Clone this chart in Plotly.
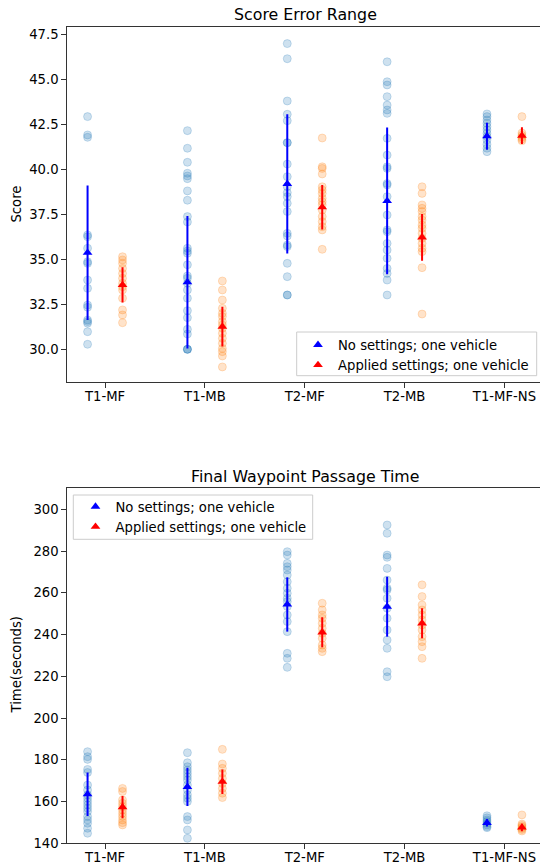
import plotly.graph_objects as go

categories = ["T1-MF", "T1-MB", "T2-MF", "T2-MB", "T1-MF-NS"]

# ---- Score Error Range (top) ----
score_no = [
    [42.94, 41.92, 41.79, 36.36, 36.26, 35.62, 34.87, 34.78, 33.85, 33.39, 32.46, 32.34, 31.63, 31.54, 31.45, 30.98, 30.28],
    [42.16, 41.18, 40.40, 39.79, 39.64, 39.49, 38.81, 38.29, 37.38, 37.08, 35.62, 35.47, 35.34, 34.70, 34.08, 33.95, 33.67, 33.30, 32.84, 32.15, 31.76, 31.11, 30.85, 30.00, 30.00, 30.00],
    [47.00, 46.16, 43.81, 43.07, 42.71, 41.49, 41.49, 40.30, 39.60, 39.04, 38.71, 38.49, 38.12, 37.66, 36.45, 36.30, 35.80, 35.71, 34.78, 34.04, 33.02, 33.02],
    [45.99, 44.88, 44.70, 44.05, 43.58, 43.31, 43.12, 41.73, 40.80, 40.15, 40.06, 39.22, 39.14, 38.49, 37.47, 36.64, 36.54, 35.89, 35.52, 35.06, 34.50, 34.22, 33.85, 33.02],
    [43.09, 42.94, 42.75, 42.57, 42.38, 42.20, 42.01, 41.83, 41.64, 41.40, 41.18, 40.99],
]
score_applied = [
    [35.15, 34.97, 34.78, 34.50, 34.22, 33.95, 33.67, 33.48, 33.30, 32.84, 32.19, 31.91, 31.48],
    [33.80, 33.30, 32.74, 32.28, 32.00, 31.82, 31.54, 31.35, 31.17, 30.89, 30.61, 30.33, 30.05, 29.87, 29.63, 29.02],
    [41.75, 40.15, 40.06, 39.75, 39.04, 38.86, 38.67, 38.40, 38.21, 38.03, 37.75, 37.38, 37.10, 36.82, 36.64, 35.56],
    [39.04, 38.67, 38.03, 37.84, 37.66, 37.38, 37.19, 36.91, 36.73, 36.45, 36.17, 35.89, 35.62, 35.43, 34.54, 31.96],
    [42.94, 42.03, 41.90, 41.80, 41.70, 41.60],
]
score_no_mean = [35.37, 33.73, 39.20, 38.25, 41.85]
score_no_err = [3.74, 3.68, 3.87, 4.08, 0.75]
score_applied_mean = [33.58, 31.26, 37.90, 36.23, 41.88]
score_applied_err = [0.98, 1.11, 1.24, 1.30, 0.47]

# ---- Final Waypoint Passage Time (bottom) ----
time_no = [
    [183.9, 181.5, 180.2, 175.4, 173.9, 167.9, 165.5, 163.2, 161.6, 160.0, 158.4, 156.8, 155.2, 152.8, 151.2, 149.6, 147.2, 144.8],
    [183.4, 178.6, 176.7, 175.1, 173.5, 171.9, 170.3, 167.9, 165.5, 163.2, 161.6, 160.0, 152.8, 151.2, 146.4, 142.4],
    [279.7, 278.1, 274.1, 272.5, 270.9, 268.5, 265.3, 262.2, 259.8, 257.4, 255.8, 253.4, 249.4, 246.2, 241.4, 231.0, 228.6, 224.3],
    [292.5, 288.5, 278.1, 277.0, 271.7, 266.1, 262.2, 261.4, 257.4, 252.6, 247.8, 242.2, 237.4, 233.4, 222.2, 219.8],
    [153.2, 152.2, 151.2, 150.4, 149.6, 148.8, 148.0, 147.5],
]
time_applied = [
    [166.3, 164.8, 160.8, 159.2, 157.6, 156.0, 154.4, 152.8, 151.2, 149.9, 148.8],
    [185.0, 178.0, 175.9, 173.5, 171.1, 168.7, 166.3, 164.0, 161.9],
    [255.0, 251.8, 249.4, 247.8, 245.4, 243.0, 240.6, 238.2, 235.0, 233.4, 231.8],
    [263.8, 258.2, 254.2, 251.8, 249.4, 247.0, 244.6, 242.2, 239.0, 236.6, 234.2, 228.6],
    [153.6, 149.2, 148.5, 147.8, 147.2, 146.6, 145.9],
]
time_no_mean = [163.5, 167.05, 254.4, 253.35, 149.8]
time_no_err = [10.4, 9.15, 13.0, 14.35, 1.8]
time_applied_mean = [157.35, 169.5, 241.1, 245.4, 147.6]
time_applied_err = [5.35, 5.9, 7.2, 7.2, 1.8]

series_labels = ["No settings; one vehicle", "Applied settings; one vehicle"]

# ---- layout helpers (pixel -> paper) ----
W, H = 540, 865
OFF = 0.175
FONT = "DejaVu Sans"
AX = "#333333"
FS = 13.2


def py(p):
    return 1 - p / H


def px(p):
    return p / W


fig = go.Figure()


def add_panel(no_pts, ap_pts, no_mean, no_err, ap_mean, ap_err, xa, ya, legend):
    for pts_list, off, col in ((no_pts, -OFF, "rgba(31,119,180,0.22)"),
                               (ap_pts, OFF, "rgba(255,127,14,0.22)")):
        xs, ys = [], []
        for i, pts in enumerate(pts_list):
            xs += [i + off] * len(pts)
            ys += pts
        fig.add_trace(go.Scatter(
            x=xs, y=ys, mode="markers", xaxis=xa, yaxis=ya, showlegend=False,
            marker=dict(color=col, size=8, line=dict(width=1, color=col)),
            hoverinfo="skip"))
    for mean, err, off, col, name in ((no_mean, no_err, -OFF, "#0000ff", series_labels[0]),
                                      (ap_mean, ap_err, OFF, "#ff0000", series_labels[1])):
        fig.add_trace(go.Scatter(
            x=[i + off for i in range(len(categories))], y=mean, mode="markers",
            xaxis=xa, yaxis=ya, name=name, legend=legend,
            marker=dict(symbol="triangle-up", size=8.5, color=col, line=dict(width=0)),
            error_y=dict(type="data", array=err, visible=True, thickness=2, width=0, color=col)))


add_panel(score_no, score_applied, score_no_mean, score_no_err,
          score_applied_mean, score_applied_err, "x", "y", "legend")
add_panel(time_no, time_applied, time_no_mean, time_no_err,
          time_applied_mean, time_applied_err, "x2", "y2", "legend2")

xcommon = dict(
    range=[-0.384, 4.356], tickmode="array", tickvals=list(range(len(categories))),
    ticktext=categories, ticks="outside", ticklen=4.5, tickwidth=1, tickcolor=AX,
    showline=True, linecolor=AX, linewidth=1, mirror=True, showgrid=False, zeroline=False,
    automargin=False, ticklabelstandoff=-3,
    tickfont=dict(family=FONT, size=FS, color="#000"),
)
ycommon = dict(
    ticks="outside", ticklen=4.5, tickwidth=1, tickcolor=AX, showline=True, linecolor=AX,
    linewidth=1, mirror=False, showgrid=False, zeroline=False, automargin=False,
    tickfont=dict(family=FONT, size=FS, color="#000"),
)

legend_box = dict(type="rect", xref="paper", yref="paper", layer="above",
                  fillcolor="rgba(255,255,255,0.8)", line=dict(color="#cccccc", width=1))

fig.update_layout(
    width=W, height=H, margin=dict(l=0, r=0, t=0, b=0, autoexpand=False),
    paper_bgcolor="white", plot_bgcolor="white",
    font=dict(family=FONT, size=FS, color="#000"),
    xaxis=dict(domain=[px(66.7), 1.0], anchor="y", **xcommon),
    yaxis=dict(domain=[py(382.3), py(26.7)], anchor="x", range=[28.165, 47.94],
               tickmode="array", tickvals=[30, 32.5, 35, 37.5, 40, 42.5, 45, 47.5],
               tickformat=".1f", **ycommon),
    xaxis2=dict(domain=[px(66.7), 1.0], anchor="y2", **xcommon),
    yaxis2=dict(domain=[py(843.3), py(487.7)], anchor="x2", range=[140, 310.35],
                tickmode="array", tickvals=[140, 160, 180, 200, 220, 240, 260, 280, 300],
                **ycommon),
    legend=dict(x=px(298), xanchor="left", y=py(329.7), yanchor="top",
                bgcolor="rgba(0,0,0,0)", borderwidth=0,
                font=dict(family=FONT, size=FS), tracegroupgap=0),
    legend2=dict(x=px(75.5), xanchor="left", y=py(491.5), yanchor="top",
                 bgcolor="rgba(0,0,0,0)", borderwidth=0,
                 font=dict(family=FONT, size=FS), tracegroupgap=0),
    shapes=[
        dict(x0=px(296.7), x1=px(536.7), y0=py(375.7), y1=py(332), **legend_box),
        dict(x0=px(73.3), x1=px(312.7), y0=py(539.3), y1=py(495), **legend_box),
    ],
    annotations=[
        dict(text="Score Error Range", x=px(305.4), y=py(14.5), xref="paper", yref="paper",
             xanchor="center", yanchor="middle", showarrow=False,
             font=dict(family=FONT, size=15.8)),
        dict(text="Final Waypoint Passage Time", x=px(305.4), y=py(476.5), xref="paper",
             yref="paper", xanchor="center", yanchor="middle", showarrow=False,
             font=dict(family=FONT, size=15.8)),
        dict(text="Score", x=px(16), y=py(204.5), xref="paper", yref="paper",
             xanchor="center", yanchor="middle", showarrow=False, textangle=-90,
             font=dict(family=FONT, size=FS)),
        dict(text="Time(seconds)", x=px(16), y=py(665.5), xref="paper", yref="paper",
             xanchor="center", yanchor="middle", showarrow=False, textangle=-90,
             font=dict(family=FONT, size=FS)),
    ],
)

fig.write_html("out.html", config={"displayModeBar": False},
               post_script="document.body.style.margin='0';document.body.style.overflow='hidden';")
